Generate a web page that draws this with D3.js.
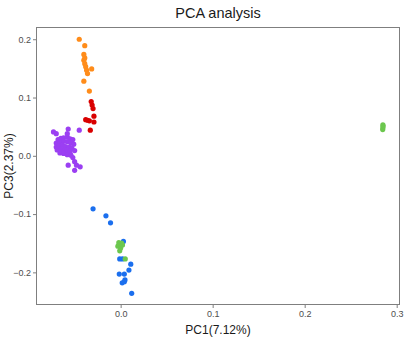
<!DOCTYPE html>
<html>
<head>
<meta charset="utf-8">
<script src="https://cdn.jsdelivr.net/npm/d3@7"></script>
<style>
html,body{margin:0;padding:0;background:#fff;}
svg{display:block;font-family:"Liberation Sans",Arial,Helvetica,sans-serif;}
</style>
</head>
<body>
<svg id="chart" width="414" height="345"></svg>
<script>
const title = "PCA analysis";
const xLabel = "PC1(7.12%)";
const yLabel = "PC3(2.37%)";
const xTicks = [0.0, 0.1, 0.2, 0.3];
const yTicks = [-0.2, -0.1, 0.0, 0.1, 0.2];
const xDomain = [-0.092, 0.3036];
const yDomain = [-0.256, 0.221];

const groupNames = ["purple", "orange", "red", "blue", "green"];
const groupColors = ["#9B3FF2", "#FF8C1A", "#D90000", "#1B6FEE", "#6CC74E"];

const purpleX = [-0.068,-0.065,-0.062,-0.058,-0.055,-0.052,-0.070,-0.066,-0.062,-0.058,-0.054,-0.051,
  -0.070,-0.067,-0.063,-0.060,-0.056,-0.053,-0.069,-0.065,-0.061,-0.058,-0.055,-0.050,
  -0.066,-0.062,-0.058,-0.054,-0.073,-0.070,-0.057,-0.058,-0.045,-0.052,-0.050,-0.048,-0.044,-0.050,-0.057];
const purpleY = [0.028,0.030,0.031,0.032,0.029,0.028,0.022,0.024,0.025,0.024,0.022,0.020,
  0.015,0.017,0.018,0.016,0.015,0.013,0.010,0.011,0.010,0.008,0.007,0.009,
  0.005,0.004,0.002,0.001,0.041,0.038,0.046,0.038,0.044,-0.003,-0.010,-0.016,-0.019,-0.025,-0.016];

const orangeX = [-0.045,-0.039,-0.040,-0.040,-0.039,-0.038,-0.037,-0.0315,-0.036,-0.040,-0.034,-0.039];
const orangeY = [0.200,0.189,0.174,0.164,0.158,0.153,0.147,0.149,0.141,0.128,0.111,0.168];

const redX = [-0.032,-0.031,-0.030,-0.038,-0.034,-0.029,-0.029,-0.033,-0.036];
const redY = [0.093,0.087,0.081,0.062,0.060,0.068,0.058,0.044,0.061];

const blueX = [-0.030,-0.016,-0.011,0.003,-0.001,0.002,0.011,0.009,-0.0015,0.004,0.0047,0.0017,0.004,0.012];
const blueY = [-0.091,-0.103,-0.115,-0.147,-0.177,-0.177,-0.186,-0.196,-0.203,-0.203,-0.213,-0.218,-0.216,-0.236];

const greenX = [-0.002,0.001,-0.003,0.000,-0.001,0.002,0.005,0.2848,0.2850,0.2852,0.2850];
const greenY = [-0.149,-0.150,-0.155,-0.158,-0.163,-0.153,-0.177,0.045,0.048,0.051,0.053];

const groupsX = [purpleX, orangeX, redX, blueX, greenX];
const groupsY = [purpleY, orangeY, redY, blueY, greenY];

const svg = d3.select("#chart");
const m = {left: 36, right: 14, top: 27, bottom: 40};
const W = 414, H = 345;
const x = d3.scaleLinear().domain(xDomain).range([m.left, W - m.right]);
const y = d3.scaleLinear().domain(yDomain).range([H - m.bottom, m.top]);

const fmt = d3.format(".1f");
const xAxis = svg.append("g").attr("transform", `translate(0,${H - m.bottom})`)
  .call(d3.axisBottom(x).tickValues(xTicks).tickFormat(fmt).tickSize(3).tickPadding(3));
const yAxis = svg.append("g").attr("transform", `translate(${m.left},0)`)
  .call(d3.axisLeft(y).tickValues(yTicks).tickFormat(fmt).tickSize(3).tickPadding(2));
[xAxis, yAxis].forEach(a => {
  a.select(".domain").remove();
  a.selectAll(".tick line").attr("stroke", "#7f7f7f");
  a.selectAll(".tick text").attr("fill", "#4d4d4d").style("font-size", "9px");
});

svg.append("rect")
  .attr("x", m.left + 0.5).attr("y", m.top + 0.5)
  .attr("width", W - m.right - m.left - 1).attr("height", H - m.bottom - m.top - 1)
  .attr("fill", "none").attr("stroke", "#7f7f7f").attr("stroke-width", 1);

const pts = svg.append("g");
groupNames.forEach((g, i) => {
  const data = groupsX[i].map((v, j) => [v, groupsY[i][j]]);
  pts.selectAll(null).data(data).enter().append("circle")
    .attr("cx", d => x(d[0])).attr("cy", d => y(d[1]))
    .attr("r", 2.6).attr("fill", groupColors[i]);
});

svg.append("text").attr("x", 218).attr("y", 18).attr("text-anchor", "middle")
  .style("font-size", "14.5px").attr("fill", "#1a1a1a").text(title);
svg.append("text").attr("x", (m.left + W - m.right) / 2).attr("y", 334).attr("text-anchor", "middle")
  .style("font-size", "12px").attr("fill", "#1a1a1a").text(xLabel);
svg.append("text").attr("transform", `translate(13,${(m.top + H - m.bottom) / 2}) rotate(-90)`)
  .attr("text-anchor", "middle").style("font-size", "12px").attr("fill", "#1a1a1a").text(yLabel);
</script>
</body>
</html>
